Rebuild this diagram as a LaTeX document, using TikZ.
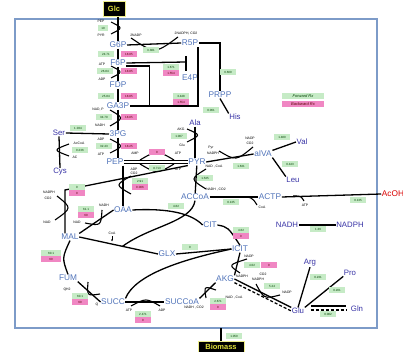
\documentclass[tikz,border=0pt]{standalone}
\usepackage{fontspec}
\setmainfont{Liberation Sans}
\usepackage{tikz}
\usetikzlibrary{arrows.meta, positioning, calc}

\definecolor{metblue}{RGB}{80,115,185}
\definecolor{aminoblue}{RGB}{55,50,165}
\definecolor{fwdgreen}{RGB}{198,235,198}
\definecolor{bwdpink}{RGB}{240,135,195}
\definecolor{frameblue}{RGB}{125,155,200}
\definecolor{extyellow}{RGB}{225,225,60}

\begin{document}
\begin{tikzpicture}[x=1pt, y=-1pt,
    met/.style={text=metblue, font=\fontsize{8.3}{9}\selectfont, inner sep=0.5pt},
    amino/.style={text=aminoblue, font=\fontsize{7.8}{9}\selectfont, inner sep=0.5pt},
    ext/.style={fill=black, draw=extyellow!60, line width=0.8pt, text=extyellow, font=\fontsize{7.5}{8}\selectfont\bfseries, inner sep=1pt},
    fwd/.style={fill=fwdgreen, text=green!25!black, font=\fontsize{3}{3}\selectfont, minimum width=16pt, minimum height=5.5pt, inner sep=0.2pt},
    bwd/.style={fwd, fill=bwdpink, text=red!35!black},
    cof/.style={font=\fontsize{3.4}{3.6}\selectfont, inner sep=0.2pt},
    rx/.style={line width=1.3pt},
    side/.style={line width=1.1pt}]
  \useasboundingbox (0,0) rectangle (403,352);

  % outer frame
  \draw[frameblue, line width=1.6pt] (15,19) rectangle (377,328);

  % uptake and drain
  \node[ext, minimum width=22pt, minimum height=15pt] (glc) at (114,9) {Glc};
  \node[ext, minimum width=46pt, minimum height=11pt] (bio) at (221,346.5) {Biomass};

  % central metabolites
  \node[met] (g6p) at (118,45) {G6P};
  \node[met] (f6p) at (118,63) {F6P};
  \node[met] (fdp) at (118,85) {FDP};
  \node[met] (ga3p) at (118,106) {GA3P};
  \node[met] (pg3) at (118,134) {3PG};
  \node[met] (pep) at (115,162) {PEP};
  \node[met] (pyr) at (197,162) {PYR};
  \node[met] (accoa) at (195,197) {ACCoA};
  \node[met] (oaa) at (123,210) {OAA};
  \node[met] (mal) at (70,237) {MAL};
  \node[met] (fum) at (68,278) {FUM};
  \node[met] (succ) at (113,302) {SUCC};
  \node[met] (succoa) at (182,302) {SUCCoA};
  \node[met] (akg) at (225,279) {AKG};
  \node[met] (icit) at (240,249) {ICIT};
  \node[met] (cit) at (210,225) {CIT};
  \node[met] (glx) at (167,254) {GLX};
  \node[met] (r5p) at (190,43) {R5P};
  \node[met] (e4p) at (190,78) {E4P};
  \node[met] (prpp) at (220,95) {PRPP};
  \node[met] (actp) at (270,197) {ACTP};
  \node[met] (aiva) at (263,154) {aIVA};
  \node[met, text=red!85!black] (acoh) at (393,194) {AcOH};

  % amino acids and cofactors
  \node[amino] (ser) at (59,133) {Ser};
  \node[amino] (cys) at (60,172) {Cys};
  \node[amino] (ala) at (195,123) {Ala};
  \node[amino] (his) at (235,117) {His};
  \node[amino] (val) at (302,142) {Val};
  \node[amino] (leu) at (293,180) {Leu};
  \node[amino] (nadh) at (287,225) {NADH};
  \node[amino] (nadph) at (350,225) {NADPH};
  \node[amino] (arg) at (310,263) {Arg};
  \node[amino] (pro) at (350,273) {Pro};
  \node[amino] (glu) at (298,311) {Glu};
  \node[amino] (gln) at (357,309) {Gln};

  % glycolysis
  \draw[rx] (glc.south -| g6p.north) -- (g6p.north);
  \draw[rx] (g6p) -- (f6p);
  \draw[rx] (f6p) -- (fdp);
  \draw[rx] (fdp) -- (ga3p);
  \draw[rx] (ga3p) -- (pg3);
  \draw[rx] (pg3.south) -- (pep.north -| pg3.south);
  \draw[side] (111,22) .. controls (123,28) .. (111,34);
  \draw[side] (111,66) .. controls (123,72) .. (111,78);
  \draw[side] (110,110) .. controls (124,118) .. (110,126);
  \draw[side] (110,139) .. controls (124,146) .. (110,153);
  \node[cof] (c1) at (101,21) {PEP};
  \node[cof] (c2) at (101,35) {PYR};
  \node[fwd, minimum width=10pt] (fpts) at (103,28) {10};
  \node[fwd] (fpgi) at (106,54) {24.71};
  \node[bwd] (bpgi) at (129,54) {18.85};
  \node[cof] (c3) at (102,64) {ATP};
  \node[cof] (c4) at (102,79) {ADP};
  \node[fwd] (fpfk) at (105,71) {26.84};
  \node[bwd] (bpfk) at (129,71) {18.85};
  \node[fwd] (ffba) at (106,96) {25.84};
  \node[bwd] (bfba) at (129,96) {18.85};
  \node[cof] (c5) at (98,110) {NAD, P};
  \node[cof] (c6) at (100,125) {NADH};
  \node[fwd] (fgap) at (104,117) {34.70};
  \node[bwd] (bgap) at (129,117) {18.85};
  \node[cof] (c7) at (101,139) {ADP};
  \node[cof] (c8) at (101,154) {ATP};
  \node[fwd] (fpgk) at (104,146) {32.43};
  \node[bwd] (bpgk) at (129,146) {18.25};

  % pentose phosphate
  \draw[rx] (g6p.east) -- (r5p.west);
  \draw[side] (131,38) .. controls (155,54) .. (178,37);
  \node[cof] (c9) at (136,35) {2NADP};
  \node[cof] (c10) at (186,34) {2NADPH, CO2};
  \node[fwd] (fzwf) at (151,50) {3.381};
  \coordinate (tk) at (186,62);
  \draw[rx] (f6p.east) -- (tk);
  \draw[rx] ($(tk)+(0,-6)$) -- ($(tk)+(0,9)$);
  \draw[rx] ($(f6p.east)+(0,3)$) -| ($(ga3p.east)+(20,0)$);
  \draw[rx] (ga3p.east) -| ($(r5p.south)+(8,0)$);
  \draw[rx] (r5p.east) -| (prpp.north);
  \draw[rx] (prpp.south) -- (his.north west);
  \node[fwd] (ftkt) at (171,67) {1.671};
  \node[bwd] (btkt) at (171,73) {1.554};
  \node[fwd] (ftal) at (181,96) {3.448};
  \node[bwd] (btal) at (181,102) {1.554};
  \node[fwd] (fprs) at (228,72) {0.600};
  \node[fwd] (fhis) at (211,110) {0.061};

  % legend
  \node[fwd, minimum width=42pt, minimum height=6.5pt, font=\fontsize{4}{4}\selectfont\itshape] (lfwd) at (303,96) {Forward Rx};
  \node[bwd, minimum width=42pt, minimum height=6.5pt, font=\fontsize{4}{4}\selectfont\itshape] (lbwd) at (303,104) {Backward Rx};

  % serine, cysteine, alanine
  \draw[rx] (pg3.west) -- (ser.east);
  \node[fwd] (fser) at (78,128) {1.034};
  \draw[rx] (ser.south) -- (cys.north);
  \draw[side] (69,144) .. controls (53,150) .. (69,156);
  \node[cof] (c11) at (79,143) {AcCoA};
  \node[fwd] (fcys) at (80,150) {0.236};
  \node[cof] (c12) at (75,157) {AC};
  \draw[rx] (ala.south) -- (pyr.north -| ala.south);
  \draw[side] (187,129) .. controls (201,135) .. (187,142);
  \node[cof] (c13) at (181,129) {AKG};
  \node[fwd] (fala) at (179,136) {1.007};
  \node[cof] (c14) at (182,145) {Glu};

  % PEP <-> PYR
  \draw[line width=0.7pt, double distance=1.8pt] (pep.east) -- (pyr.west);
  \draw[side] (140,160) .. controls (157,150) .. (174,160);
  \draw[side] (140,164) .. controls (157,174) .. (174,164);
  \node[cof] (c15) at (135,153) {AMP};
  \node[bwd] (bpps) at (157,152) {0};
  \node[cof] (c16) at (178,153) {ATP};
  \node[cof] (c17) at (134,169) {ADP};
  \node[fwd] (fpyk) at (157,168) {8.713};
  \node[cof] (c18) at (178,169) {ATP};

  % branched chain
  \draw[rx] (pyr.east) -- (aiva.west);
  \draw[side] (219,151) .. controls (236,161) .. (253,147);
  \node[cof] (c19) at (211,148) {Pyr};
  \node[cof] (c20) at (213,153) {NADPH};
  \node[cof] (c21) at (250,138) {NADP};
  \node[cof] (c22) at (250,143) {CO2};
  \node[fwd] (filv) at (241,166) {1.631};
  \draw[rx] (aiva.north east) -- (val.west);
  \draw[rx] (aiva.south east) -- (leu.north west);
  \node[fwd] (fval) at (282,137) {1.480};
  \node[fwd] (fleu) at (290,164) {0.443};

  % PYR -> ACCoA -> acetate
  \draw[rx] (pyr) -- (accoa);
  \draw[side] (206,169) .. controls (190,179) .. (206,189);
  \node[cof] (c23) at (214,167) {NAD , CoA};
  \node[cof] (c24) at (216,190) {NADH , CO2};
  \node[fwd] (fpdh) at (205,178) {1.535};
  \draw[rx] (accoa.east) -- (actp.west);
  \draw[side] (238,197) .. controls (252,197) .. (257,205);
  \node[cof] (c25) at (262,207) {CoA};
  \node[fwd] (fpta) at (231,202) {0.135};
  \draw[rx] (actp.east) -- (acoh.west);
  \draw[side] (293,196) .. controls (301,196) .. (304,201);
  \node[cof] (c26) at (305,205) {ATP};
  \node[fwd] (fack) at (358,200) {0.135};

  % transhydrogenase
  \draw[rx] (nadh.east) -- (nadph.west);
  \node[fwd] (fpnt) at (318,229) {1.36};

  % anaplerosis
  \draw[rx] (pep.south -| oaa.north) -- (oaa.north);
  \draw[side] (131,176) .. controls (115,185) .. (131,194);
  \node[cof] (c27) at (134,173) {CO2};
  \node[fwd] (fppc) at (140,181) {2.91};
  \node[bwd] (bppc) at (140,187) {0.006};
  \coordinate (me) at (65,190);
  \draw[rx] (mal.north -| me) -- (me) -- (pyr.south west);
  \draw[side] (57,196) .. controls (72,208) .. (55,220);
  \node[cof] (c28) at (49,192) {NADPH};
  \node[cof] (c29) at (48,198) {CO2};
  \node[cof] (c30) at (47,222) {NAD};
  \node[fwd] (fmae) at (77,187) {0};
  \node[bwd] (bmae) at (77,193) {0};

  % TCA cycle
  \draw[rx] (oaa.west) -- (mal.north east);
  \draw[side] (102,210) .. controls (101,226) .. (85,223);
  \node[cof] (c31) at (104,205) {NADH};
  \node[cof] (c32) at (77,222) {NAD};
  \node[fwd] (fmdh) at (86,209) {61.1};
  \node[bwd] (bmdh) at (86,215) {60};
  \draw[rx] (mal.south) .. controls (62,258) .. (fum.north);
  \node[fwd, minimum width=20pt] (ffum) at (51,253) {60.1};
  \node[bwd, minimum width=20pt] (bfum) at (51,259) {60};
  \draw[rx] (fum.south east) -- (succ.west);
  \draw[side] (88,282) .. controls (87,296) .. (100,294);
  \node[cof] (c33) at (67,290) {QH2};
  \node[cof] (c34) at (97,305) {Q};
  \node[fwd] (fsdh) at (80,296) {60.1};
  \node[bwd] (bsdh) at (80,302) {60};
  \draw[rx] (succ.east) -- (succoa.west);
  \draw[side] (131,306) .. controls (146,298) .. (160,306);
  \node[cof] (c35) at (129,310) {ATP};
  \node[cof] (c36) at (162,310) {ADP};
  \node[fwd] (fsuc) at (143,314) {2.471};
  \node[bwd] (bsuc) at (143,320) {0};
  \draw[rx] (succoa.north east) -- (akg.south west);
  \draw[side] (206,298) .. controls (204,286) .. (216,290);
  \node[cof] (c37) at (194,308) {NADH , CO2};
  \node[cof] (c38) at (234,298) {NAD , CoA};
  \node[fwd] (fkgd) at (218,301) {2.671};
  \node[bwd] (bkgd) at (218,307) {0};
  \draw[rx] (akg.north east) -- (icit.south);
  \draw[side] (247,259) .. controls (228,265) .. (240,273);
  \node[cof] (c39) at (249,256) {NADP};
  \node[cof] (c40) at (242,276) {NADPH};
  \node[cof] (c41) at (263,274) {CO2};
  \node[fwd] (ficd) at (252,265) {4.02};
  \node[bwd] (bicd) at (269,265) {0};
  \draw[rx] (cit.east) .. controls (228,227) .. (icit.north);
  \node[fwd] (facn) at (241,230) {4.62};
  \node[bwd] (bacn) at (241,236) {0};
  \draw[rx] (oaa.east) .. controls (170,208) and (192,214) .. (cit.west);
  \node[fwd] (fglt) at (176,206) {4.62};

  % glyoxylate shunt
  \draw[rx] (icit.west) -- (glx.east);
  \node[fwd] (face) at (190,247) {0};
  \draw[rx] (icit.west) .. controls (180,260) and (135,275) .. (succ.north east);
  \draw[rx] (mal.east) -- (glx.west);
  \coordinate (ms) at ($(mal.east)!0.55!(glx.west)$);
  \draw[rx] (accoa.south) .. controls (192,222) and (150,226) .. (ms);
  \draw[line width=0.6pt, -{Latex[length=2pt, width=2pt]}] (112,236) -- (112,241.5);
  \node[cof] (c42) at (112,233) {CoA};

  % amino acids from AKG
  \draw[rx] (akg.east) -- (glu.north west);
  \draw[rx, dash pattern=on 3pt off 2pt] (akg.south east) -- (glu.west);
  \draw[side] (256,284) .. controls (264,299) .. (280,295);
  \node[cof] (c43) at (258,279) {NADPH};
  \node[cof] (c44) at (287,292) {NADP};
  \node[fwd] (fgdh) at (272,286) {5.24};
  \draw[rx] (glu.north) -- (arg.south);
  \draw[rx] (glu.north east) -- (pro.south west);
  \draw[rx] ($(glu.east)+(6,-5)$) -- ($(gln.west)+(-4,-3)$);
  \draw[rx, dash pattern=on 3pt off 2pt] ($(glu.east)+(6,-1)$) -- ($(gln.west)+(-4,1)$);
  \node[fwd] (farg) at (318,277) {0.231};
  \node[fwd] (fpro) at (337,290) {0.201};
  \node[fwd] (fgln) at (328,314) {0.082};

  % biomass drain
  \coordinate (fb) at (221,328);
  \draw[rx] (fb) -- (bio.north);
  \node[fwd] (fbio) at (234,336) {1.050};
\end{tikzpicture}
\end{document}
